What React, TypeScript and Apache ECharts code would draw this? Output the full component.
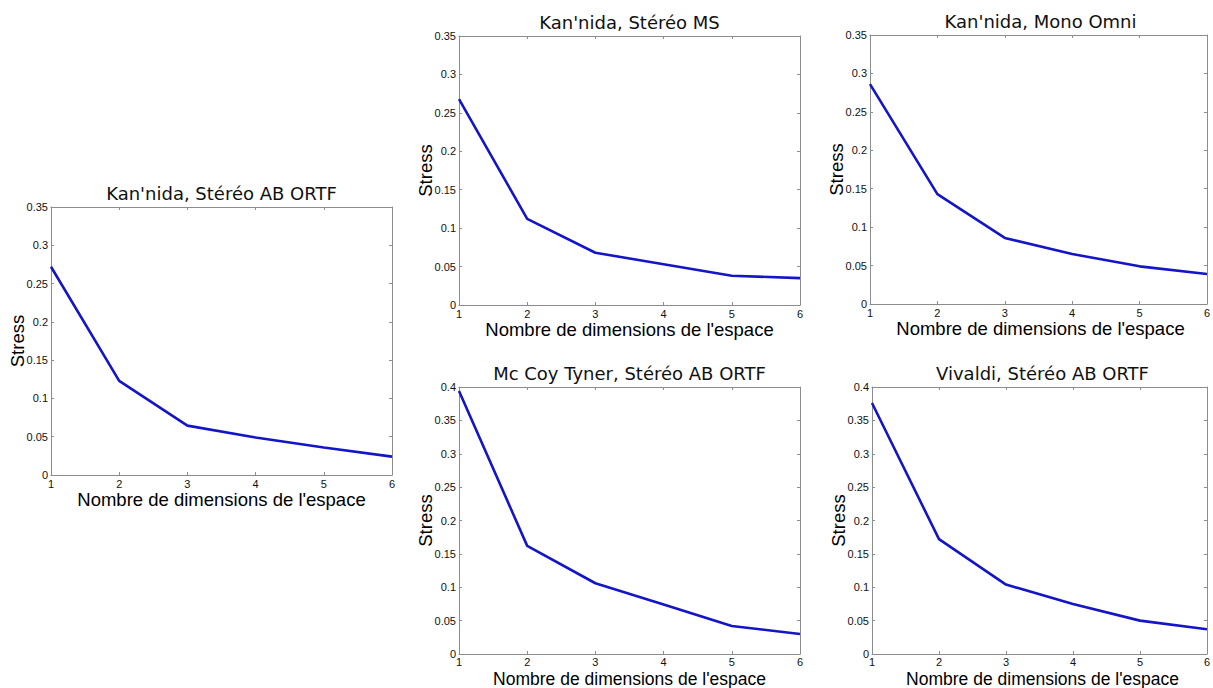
import React, { useEffect, useRef } from "react";
import * as echarts from "echarts";

// Data
const dimensions = [1, 2, 3, 4, 5, 6];
const stressKannidaABORTF = [0.272, 0.123, 0.0645, 0.049, 0.036, 0.024];
const stressKannidaMS = [0.268, 0.112, 0.068, 0.053, 0.038, 0.035];
const stressKannidaOmni = [0.286, 0.143, 0.086, 0.065, 0.049, 0.039];
const stressMcCoyTyner = [0.394, 0.162, 0.106, 0.074, 0.042, 0.03];
const stressVivaldi = [0.376, 0.172, 0.104, 0.075, 0.05, 0.037];
const panelTitles = [
  "Kan'nida, Stéréo AB ORTF",
  "Kan'nida, Stéréo MS",
  "Kan'nida, Mono Omni",
  "Mc Coy Tyner, Stéréo AB ORTF",
  "Vivaldi, Stéréo AB ORTF",
];
const panelSeries = [stressKannidaABORTF, stressKannidaMS, stressKannidaOmni, stressMcCoyTyner, stressVivaldi];
const yMaxes = [0.35, 0.35, 0.35, 0.4, 0.4];
const yInterval = 0.05;
const xLabel = "Nombre de dimensions de l'espace";
const yLabel = "Stress";

// Layout (pixels)
const grids = [
  { left: 51, top: 207, width: 341, height: 268 },
  { left: 459, top: 36, width: 341, height: 269 },
  { left: 870, top: 35, width: 341, height: 269 },
  { left: 459, top: 387, width: 341, height: 267 },
  { left: 872, top: 387, width: 341, height: 267 },
];

const AXIS_GRAY = "#8c8c8c";
const LINE_BLUE = "#1414c8";
const SANS = "'Liberation Sans', Arial, sans-serif";

export default function App() {
  const ref = useRef<HTMLDivElement>(null);
  useEffect(() => {
    if (!ref.current) return;
    const chart = echarts.init(ref.current, null, { renderer: "svg" });
    const xAxes: any[] = [];
    const yAxes: any[] = [];
    const series: any[] = [];
    const graphics: any[] = [];
    grids.forEach((g, i) => {
      const bottomRow = i >= 3;
      const common = {
        type: "value",
        gridIndex: i,
        splitLine: { show: false },
        axisLine: { show: true, onZero: false, lineStyle: { color: AXIS_GRAY, width: 1 } },
        axisTick: { show: true, inside: true, length: 3, lineStyle: { color: AXIS_GRAY } },
      };
      xAxes.push({
        ...common,
        position: "bottom",
        min: 1,
        max: 6,
        interval: 1,
        axisLabel: { show: true, fontSize: 11, color: "#111", margin: bottomRow ? 2 : 3, fontFamily: SANS },
      });
      xAxes.push({
        ...common,
        position: "top",
        min: 1,
        max: 6,
        interval: 1,
        axisLabel: { show: false },
      });
      yAxes.push({
        ...common,
        position: "left",
        min: 0,
        max: yMaxes[i],
        interval: yInterval,
        axisLabel: { show: true, fontSize: 11, color: "#111", margin: 3, fontFamily: SANS },
      });
      yAxes.push({
        ...common,
        position: "right",
        min: 0,
        max: yMaxes[i],
        interval: yInterval,
        axisLabel: { show: false },
      });
      series.push({
        type: "line",
        xAxisIndex: i * 2,
        yAxisIndex: i * 2,
        data: dimensions.map((d, k) => [d, panelSeries[i][k]]),
        showSymbol: false,
        symbol: "none",
        lineStyle: { color: LINE_BLUE, width: 2.6 },
        z: 5,
      });
      const cx = g.left + g.width / 2;
      graphics.push({
        type: "text",
        x: cx,
        y: g.top - 14,
        style: {
          text: panelTitles[i],
          align: "center",
          verticalAlign: "middle",
          font: "18px 'DejaVu Sans', Verdana, sans-serif",
          fill: "#111",
        },
      });
      graphics.push({
        type: "text",
        x: cx,
        y: bottomRow ? 679 : g.top + g.height + 24,
        style: {
          text: xLabel,
          align: "center",
          verticalAlign: "middle",
          font: `${bottomRow ? 17.5 : 18.5}px ${SANS}`,
          fill: "#000",
        },
      });
      graphics.push({
        type: "text",
        x: g.left - 34,
        y: g.top + g.height / 2,
        rotation: Math.PI / 2,
        style: {
          text: yLabel,
          align: "center",
          verticalAlign: "middle",
          font: `18.5px ${SANS}`,
          fill: "#000",
        },
      });
    });
    chart.setOption({
      animation: false,
      backgroundColor: "#ffffff",
      grid: grids.map((g) => ({ ...g, containLabel: false })),
      xAxis: xAxes,
      yAxis: yAxes,
      series,
      graphic: graphics,
    });
    return () => chart.dispose();
  }, []);
  return (
    <div
      ref={ref}
      style={{ position: "fixed", left: 0, top: 0, width: 1213, height: 688, background: "#fff" }}
    />
  );
}
